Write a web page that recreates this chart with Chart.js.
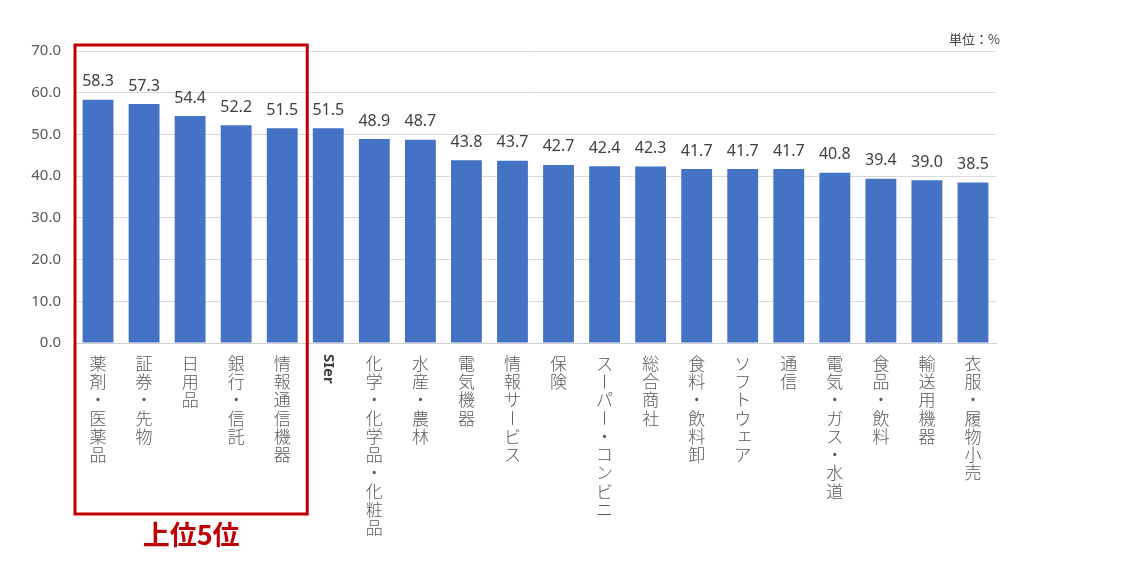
<!DOCTYPE html>
<html>
<head>
<meta charset="utf-8">
<script src="https://cdn.jsdelivr.net/npm/chart.js@4"></script>
<style>
  html, body { margin:0; padding:0; background:#fff; }
  #wrap { width:1124px; height:573px; position:relative; }
</style>
</head>
<body>
<div id="wrap"><canvas id="chart" width="1124" height="573"></canvas></div>
<script>
// industry categories, sorted by value
const categories = ['薬剤・医薬品','証券・先物','日用品','銀行・信託','情報通信機器','SIer','化学・化学品・化粧品','水産・農林','電気機器','情報サービス','保険','スーパー・コンビニ','総合商社','食料・飲料卸','ソフトウェア','通信','電気・ガス・水道','食品・飲料','輸送用機器','衣服・履物小売'];
const values = [58.3,57.3,54.4,52.2,51.5,51.5,48.9,48.7,43.8,43.7,42.7,42.4,42.3,41.7,41.7,41.7,40.8,39.4,39.0,38.5];
const yMin = 0, yMax = 70, yStep = 10;
const topN = 5;
const topLabel = '上位5位';
const unitLabel = '単位：%';

const FONT = '"Noto Sans", "Noto Sans CJK JP", sans-serif';
const JP = '"Noto Sans CJK JP", sans-serif';

// vertical (tategaki) x labels + value labels + top-5 box
const overlay = {
  id: 'overlay',
  afterDatasetsDraw(chart) {
    const {ctx, chartArea, scales} = chart;
    const meta = chart.getDatasetMeta(0);
    ctx.save();
    // value labels above bars
    ctx.font = '16px ' + FONT;
    ctx.fillStyle = '#404040';
    ctx.textAlign = 'center';
    ctx.textBaseline = 'bottom';
    meta.data.forEach((bar, i) => {
      ctx.fillText(values[i].toFixed(1), bar.x, bar.y - 10);
    });

    // category labels, written top to bottom
    const top = chartArea.bottom + 11;
    const step = 18.3;
    categories.forEach((label, i) => {
      const x = scales.x.getPixelForValue(i);
      if (/^[A-Za-z]+$/.test(label)) {
        ctx.save();
        ctx.translate(x, top);
        ctx.rotate(Math.PI / 2);
        ctx.font = 'bold 15px ' + FONT;
        ctx.fillStyle = '#404040';
        ctx.textAlign = 'left';
        ctx.textBaseline = 'middle';
        ctx.fillText(label, 0, 0);
        ctx.restore();
        return;
      }
      ctx.font = '300 17px ' + JP;
      ctx.fillStyle = '#595959';
      ctx.textAlign = 'center';
      ctx.textBaseline = 'middle';
      [...label].forEach((ch, k) => {
        const y = top + step * k + step / 2;
        if (ch === 'ー') {
          ctx.save();
          ctx.translate(x, y);
          ctx.rotate(Math.PI / 2);
          ctx.fillText(ch, 0, 0);
          ctx.restore();
        } else if ('ァィゥェォャュョッ'.includes(ch)) {
          ctx.fillText(ch, x + 2, y - 2);
        } else {
          ctx.fillText(ch, x, y);
        }
      });
    });

    // red box around top 5
    const left = chartArea.left;
    const right = (scales.x.getPixelForValue(topN - 1) + scales.x.getPixelForValue(topN)) / 2 + 2;
    ctx.strokeStyle = '#c00000';
    ctx.lineWidth = 3;
    ctx.strokeRect(left, chartArea.top - 6, right - left, 514 - (chartArea.top - 6));
    ctx.font = 'bold 27px ' + JP;
    ctx.fillStyle = '#c00000';
    ctx.textAlign = 'center';
    ctx.textBaseline = 'middle';
    ctx.fillText(topLabel, (left + right) / 2, 535);

    // unit
    ctx.font = '13px ' + JP;
    ctx.fillStyle = '#404040';
    ctx.textAlign = 'right';
    ctx.textBaseline = 'middle';
    ctx.fillText(unitLabel, chartArea.right + 4, 39);
    ctx.restore();
  }
};

const ctx = document.getElementById('chart').getContext('2d');
new Chart(ctx, {
  type: 'bar',
  data: {
    labels: categories,
    datasets: [{
      data: values,
      backgroundColor: '#4472c4',
      barPercentage: 0.67,
      categoryPercentage: 1.0
    }]
  },
  options: {
    responsive: false,
    animation: false,
    layout: { padding: { top: 51, right: 128, left: 0, bottom: 0 } },
    plugins: { legend: { display: false }, tooltip: { enabled: false } },
    scales: {
      x: {
        ticks: { display: false },
        grid: { display: false, drawTicks: false },
        border: { color: '#d0d0d0', width: 1 },
        afterFit: s => { s.height = 230; }
      },
      y: {
        min: yMin, max: yMax,
        ticks: {
          stepSize: yStep,
          padding: 14,
          color: '#595959',
          font: { size: 15, family: FONT },
          callback: v => Number(v).toFixed(1)
        },
        grid: { color: '#d9d9d9', drawTicks: false },
        border: { display: false },
        afterFit: s => { s.width = 75; }
      }
    }
  },
  plugins: [overlay]
});
</script>
</body>
</html>
